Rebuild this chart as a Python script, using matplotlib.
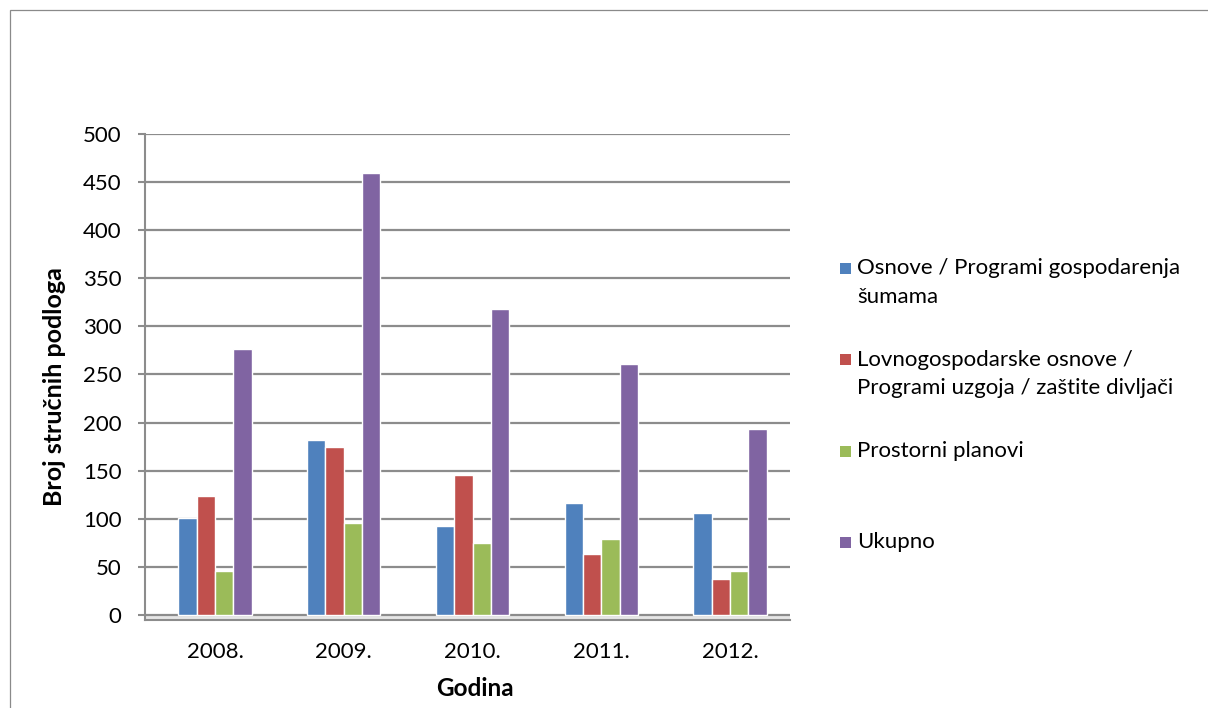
import numpy as np
import matplotlib
matplotlib.use("Agg")
import matplotlib.pyplot as plt
from matplotlib.patches import Rectangle

plt.rcParams["font.family"] = ["Lato", "DejaVu Sans"]

# data
godine = ["2008.", "2009.", "2010.", "2011.", "2012."]
osnove_sume = [101, 182, 93, 116, 106]
lovne_osnove = [124, 175, 145, 63, 38]
prostorni_planovi = [46, 96, 75, 79, 46]
ukupno = [276, 459, 318, 261, 193]

series_labels = [
    "Osnove / Programi gospodarenja\nšumama",
    "Lovnogospodarske osnove /\nProgrami uzgoja / zaštite divljači",
    "Prostorni planovi",
    "Ukupno",
]
colors = ["#4F81BD", "#C0504D", "#9BBB59", "#8064A2"]
grid_color = "#8c8c8c"

W, H = 1208, 708
fig = plt.figure(figsize=(W / 100, H / 100), dpi=100)

# outer chart frame (runs off the right and bottom edges)
fig.patches.append(Rectangle((10 / W, -0.05), 1.2, (H - 10) / H + 0.05,
                             transform=fig.transFigure, fill=False,
                             edgecolor="#8a8a8a", linewidth=0.9))

ax = fig.add_axes([145 / W, (H - 620) / H, 645 / W, 486.5 / H])

x = np.arange(len(godine))
pitch = 0.142
all_series = [osnove_sume, lovne_osnove, prostorni_planovi, ukupno]
for k, (vals, col) in enumerate(zip(all_series, colors)):
    ax.bar(x + (k - 1.5) * pitch, vals, width=pitch, color=col,
           edgecolor="white", linewidth=1.0, zorder=3)

ax.set_xlim(-0.544, 4.466)
ax.set_ylim(-5, 500)
ax.set_yticks(range(0, 501, 50))
ax.set_xticks(x)
ax.set_xticklabels(godine)

# back-wall gridlines and floor
for v in range(0, 501, 50):
    ax.axhline(v, color=grid_color, linewidth=1.6, zorder=1)
ax.axhspan(-5, 0, color="#e6e6e6", zorder=0)

for s in ["top", "right"]:
    ax.spines[s].set_visible(False)
ax.spines["left"].set_color(grid_color)
ax.spines["left"].set_linewidth(1.5)
ax.spines["bottom"].set_color(grid_color)
ax.spines["bottom"].set_linewidth(1.5)

ax.tick_params(axis="y", length=5, width=1.5, color=grid_color, pad=12,
               labelsize=16)
ax.tick_params(axis="x", length=0, pad=16, labelsize=16)

ax.set_xlabel("Godina", fontsize=17.5, fontweight="bold")
ax.xaxis.set_label_coords((475 - 145) / 645, -(689 - 620) / 486.5)
ax.xaxis.label.set_va("center")
ax.set_ylabel("Broj stručnih podloga", fontsize=18, fontweight="bold")
ax.yaxis.set_label_coords((55 - 145) / 645, (620 - 387) / 486.5)
ax.yaxis.label.set_va("center")

# legend drawn by hand so the swatch sits on the first line
entry_y = [268.5, 359.5, 451.3, 542.5]
line_gap = 28.5
for label, col, yc in zip(series_labels, colors, entry_y):
    fig.patches.append(Rectangle((840 / W, (H - yc - 5.5) / H), 11 / W, 11 / H,
                                 transform=fig.transFigure, facecolor=col,
                                 edgecolor="none"))
    for j, line in enumerate(label.split("\n")):
        fig.text(857 / W, (H - yc - j * line_gap) / H, line, fontsize=16,
                 va="center", ha="left", color="black")

fig.savefig("out.png", dpi=100)
